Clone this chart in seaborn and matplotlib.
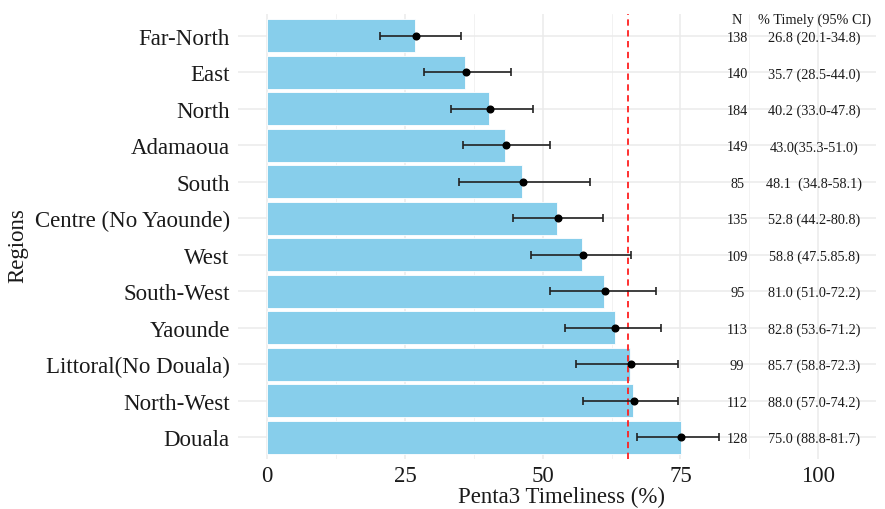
import numpy as np
import pandas as pd
import matplotlib
matplotlib.use("Agg")
import matplotlib.pyplot as plt
import seaborn as sns

regions = ["Far-North", "East", "North", "Adamaoua", "South", "Centre (No Yaounde)",
           "West", "South-West", "Yaounde", "Littoral(No Douala)", "North-West", "Douala"]
bar_values = [26.9, 35.9, 40.3, 43.2, 46.3, 52.6, 57.2, 61.2, 63.1, 65.9, 66.4, 75.1]
point_values = [27.0, 36.0, 40.4, 43.3, 46.4, 52.8, 57.3, 61.3, 63.2, 66.1, 66.5, 75.1]
ci_low = [20.4, 28.4, 33.4, 35.5, 34.8, 44.6, 47.9, 51.4, 54.0, 56.1, 57.3, 67.2]
ci_high = [35.1, 44.3, 48.3, 51.4, 58.5, 61.0, 66.0, 70.5, 71.5, 74.5, 74.5, 82.0]
n_values = ["138", "140", "184", "149", "85", "135", "109", "95", "113", "99", "112", "128"]
timely_labels = ["26.8 (20.1-34.8)", "35.7 (28.5-44.0)", "40.2 (33.0-47.8)", "43.0(35.3-51.0)",
                 "48.1  (34.8-58.1)", "52.8 (44.2-80.8)", "58.8 (47.5.85.8)", "81.0 (51.0-72.2)",
                 "82.8 (53.6-71.2)", "85.7 (58.8-72.3)", "88.0 (57.0-74.2)", "75.0 (88.8-81.7)"]
target_line = 65.5
x_ticks = [0, 25, 50, 75, 100]

df = pd.DataFrame({"Region": regions, "Value": bar_values, "Point": point_values,
                   "Low": ci_low, "High": ci_high})

sns.set_theme(style="whitegrid")
plt.rcParams["font.family"] = ["Liberation Serif", "DejaVu Serif"]

fig = plt.figure(figsize=(8.85, 5.1), dpi=100)
ax = fig.add_axes([238/885, 1-460/510, (876-238)/885, (460-15)/510])

sns.barplot(data=df, y="Region", x="Value", orient="h", color="#87CEEB",
            saturation=1, width=0.9, edgecolor="white", linewidth=0.6, ax=ax, zorder=2)

ypos = np.arange(len(regions))
pts = np.array(point_values)
ax.errorbar(pts, ypos, xerr=[pts - np.array(ci_low), np.array(ci_high) - pts],
            fmt="o", color="black", ecolor="#222222", elinewidth=1.2, capsize=2.8,
            capthick=1.2, markersize=4.8, zorder=4)

ax.axvline(target_line, color="#FF2020", linestyle=(0, (3.5, 2.5)), linewidth=1.3, zorder=3)

for i in range(len(regions)):
    ax.text(85.3, i + 0.04, n_values[i], ha="center", va="center", fontsize=10.3, color="#1a1a1a")
    ax.text(99.3, i + 0.04, timely_labels[i], ha="center", va="center", fontsize=10.3, color="#1a1a1a")
ax.text(85.3, -0.45, "N", ha="center", va="center", fontsize=10.3, color="#1a1a1a")
ax.text(99.3, -0.45, "% Timely (95% CI)", ha="center", va="center", fontsize=10.3, color="#1a1a1a")

ax.set_xlim(-5.3, 110.5)
ax.set_ylim(len(regions) - 0.4, -0.6)
ax.set_xticks(x_ticks)
ax.set_xticks([12.5, 37.5, 62.5, 87.5], minor=True)
ax.grid(True, which="major", color="#EBEBEB", linewidth=1.1)
ax.grid(True, which="minor", axis="x", color="#F2F2F2", linewidth=0.7)
ax.set_axisbelow(True)
for s in ax.spines.values():
    s.set_visible(False)
ax.set_facecolor("white")
ax.tick_params(axis="both", length=0, labelsize=16.5, colors="#1a1a1a", pad=4)
ax.tick_params(axis="y", pad=6)
ax.set_xlabel("Penta3 Timeliness (%)", fontsize=16.5, color="#1a1a1a")
ax.set_ylabel("Regions", fontsize=16.5, color="#1a1a1a")
ax.xaxis.set_label_coords((562 - 238) / 638, -(487 - 460) / 445)
ax.xaxis.label.set_va("top")
ax.yaxis.set_label_coords((28 - 238) / 638, (460 - 245.5) / 445)

fig.savefig("out.png", dpi=100, facecolor="white")
